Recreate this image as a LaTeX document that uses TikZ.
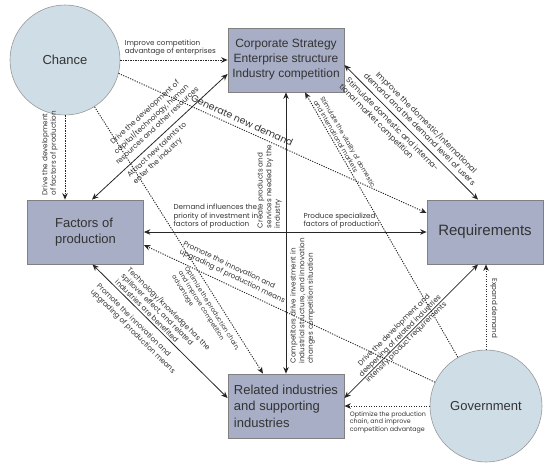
\documentclass[tikz,border=0pt]{standalone}
\usepackage{fontspec}
\setmainfont{Liberation Sans}
\newfontfamily\lblfont{Poppins}
\usetikzlibrary{arrows.meta, positioning, calc}
\definecolor{boxfill}{RGB}{168,174,198}
\definecolor{circfill}{RGB}{207,221,230}
\definecolor{edgegray}{RGB}{128,128,128}
\definecolor{txtgray}{RGB}{51,51,51}

\tikzset{
    box/.style={draw=edgegray, fill=boxfill, line width=0.8pt, minimum width=116pt, minimum height=64pt,
        inner sep=2pt, align=left, text=txtgray, font=\fontsize{13}{16.5}\selectfont},
    circ/.style={circle, draw=edgegray!80, fill=circfill, line width=0.6pt, minimum size=110pt,
        inner sep=0pt, text=txtgray, font=\fontsize{13}{16}\selectfont},
    lbl/.style={inner sep=1pt, text=txtgray, font=\lblfont\fontsize{7.2}{8.6}\selectfont},
    lbls/.style={lbl, font=\lblfont\fontsize{6.3}{7.6}\selectfont},
    lblb/.style={lbl, font=\lblfont\fontsize{7.8}{9.4}\selectfont},
    solidarr/.style={line width=0.8pt, black!85, {Stealth[length=6.5pt,width=5.5pt]}-{Stealth[length=6.5pt,width=5.5pt]}},
    dotarr/.style={line width=0.9pt, black!85, dash pattern=on 1.2pt off 1.3pt, -{Stealth[length=6.5pt,width=5.5pt]}},
}

\begin{document}
\begin{tikzpicture}[x=1pt, y=-1pt]
    \useasboundingbox (0,0) rectangle (550,467);

    % Vẽ các nút chính
    \node[circ] (chance) at (65,60) {Chance};
    \node[box, align=center, font=\fontsize{12}{15}\selectfont] (corp) at (286,60) {Corporate Strategy\\Enterprise structure\\Industry competition};
    \node[box] (factors) at (85.5,232) {Factors of\\production};
    \node[box, font=\fontsize{15}{17}\selectfont] (req) at (485,232) {Requirements};
    \node[box] (rel) at (286,406) {Related industries\\and supporting\\industries};
    \node[circ, minimum size=112pt] (gov) at (486,406) {Government};

    % Chance -> Corporate Strategy
    \draw[dotarr] (chance) -- (corp)
        node[lbl, pos=0, anchor=south west, align=left, xshift=3pt, yshift=3pt] {Improve competition\\advantage of enterprises};
    % Chance -> Factors of production
    \draw[dotarr] (chance) -- (chance |- factors.north);
    \node[lbl, rotate=90, anchor=south west, align=left] (lblfac) at ($(chance.south |- factors.north)+(-6,-3)$) {Drive the development\\of factors of production};
    % Chance -> Related industries
    \draw[dotarr] (chance) -- ([xshift=-23pt]rel.north)
        node[lbls, sloped, below=4pt, pos=0.74, align=left] {Optimize the production chain,\\and improve competition\\advantage};
    % Chance -> Requirements
    \draw[dotarr] (chance.-14) -- ([yshift=19pt]req.west)
        node[lbl, sloped, above=3pt, pos=0.39, font=\lblfont\fontsize{9.5}{11}\selectfont] {Generate new demand};

    % Factors <-> Corporate Strategy
    \draw[solidarr] ([xshift=6.5pt]factors.north) -- ([yshift=-14pt]corp.west)
        node[lbl, sloped, above=6pt, pos=0.53, align=center] {Drive the development of\\capital/technology, human\\resources and other resources}
        node[lbl, sloped, below=3pt, pos=0.44, align=left] {Attract new talents to\\enter the industry};
    % Factors <-> Requirements
    \draw[solidarr] (factors) -- (req)
        node[lbl, pos=0.1, anchor=south west, align=left, yshift=2pt] {Demand influences the\\priority of investment in\\factors of production}
        node[lbl, pos=0.56, anchor=south west, align=left, yshift=2pt] {Produce specialized\\factors of production};
    % Corporate Strategy <-> Related industries
    \draw[solidarr] (rel) -- (corp);
    \node[lbl, rotate=90, anchor=south west, align=left] (lblcreate) at ($(corp.south)+(-3,137)$) {Create products and\\services needed by the\\industry};
    \node[lbl, rotate=90, anchor=north west, align=left] (lblcomp) at ($(rel.north)+(3,-9)$) {Competitors drive investment in\\industrial structure, and innovation\\changes competition situation};
    % Corporate Strategy <-> Requirements
    \draw[solidarr] ([yshift=-5pt]corp.east) -- ([xshift=-7pt]req.north)
        node[lblb, sloped, above=4pt, pos=0.52, align=center] {Improve the domestic/international\\demand and the demand level of users}
        node[lblb, sloped, below=3pt, pos=0.4, align=left] {Stimulate domestic and interna-\\tional market competition};
    % Related industries <-> Factors
    \draw[solidarr] ([xshift=7pt]factors.south) -- ([yshift=8pt]rel.west)
        node[lbl, sloped, above=1pt, pos=0.45, align=left] {Technology/knowledge has the\\spillover effect, and related\\industries are benefited}
        node[lbl, sloped, below=6pt, pos=0.4, align=left] {Promote the innovation and\\upgrading of production means};
    % Related industries <-> Requirements
    \draw[solidarr] ([yshift=8pt]rel.east) -- ([xshift=-7pt]req.south)
        node[lbl, sloped, pos=0.44, yshift=4pt, align=center] {Drive the development and\\deepening of related industries\\intensify product requirements};

    % Government -> Corporate Strategy
    \draw[dotarr] (gov) -- ([xshift=19pt]corp.south)
        node[lbls, sloped, above=1pt, pos=0.79, align=left] {Stimulate the vitality of domestic\\and international markets};
    % Government -> Factors of production
    \draw[dotarr] (gov.155) -- ([yshift=-13pt]factors.east)
        node[lbl, sloped, above=4pt, pos=0.71, align=left] {Promote the innovation and\\upgrading of production means};
    % Government -> Related industries
    \draw[dotarr] (gov) -- (rel)
        node[lbls, pos=1, anchor=north west, align=left, xshift=4pt, yshift=-4pt] {Optimize the production\\chain, and improve\\competition advantage};
    % Government -> Requirements
    \draw[dotarr] (gov) -- (gov |- req.south);
    \node[lbl, rotate=-90, anchor=south] (lblexp) at ($(gov.north |- req.south)+(3,44)$) {Expand demand};
\end{tikzpicture}
\end{document}
